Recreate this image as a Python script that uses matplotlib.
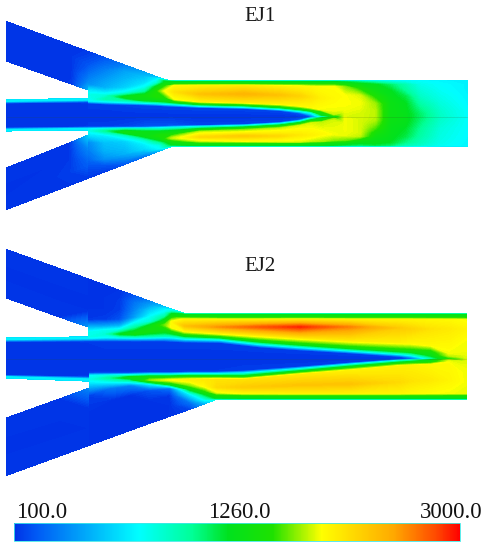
import numpy as np
import matplotlib
matplotlib.use("Agg")
import matplotlib.pyplot as plt
from matplotlib.colors import LinearSegmentedColormap, TwoSlopeNorm
from matplotlib.cm import ScalarMappable

TITLES = ["EJ1", "EJ2"]
CBAR_LABELS = ["100.0", "1260.0", "3000.0"]
T_MIN, T_MID, T_MAX = 100.0, 1260.0, 3000.0

# ---------- EJ1 mixing section: stations (x), node positions (y), temperatures (T)
E1U_X = [89,105,125,145,157,165,175,200,244,280,300,311,322,334,345,360,375,390,405,420,440,467]
E1U_Y = [
[52,65,75,85,90,95,99.5,101,103,116.5],
[58,70,80,88,92,96,99,101.5,104,116.5],
[65.3,72,80,88,93,97,99.5,102,104.5,116.5],
[72.6,77,83,88,92,96,100,102.5,105,116.5],
[77,79,83,87,91,96,100.5,103,105.5,116.5],
[80,81.5,83.5,86,91,97,101,103.5,106,116.5],
[81,82,84,86,92,99,102,104,106.5,116.5],
[81,82,84,86,94,101,103.5,105.5,107.5,116.5],
[81,82,84,86,94,102,104.5,106.5,108.5,116.5],
[81,82,84,86.5,95,103.5,106.5,108.5,110.5,116.5],
[81,82,84,86.5,96,105.5,108.5,110.5,113,116.5],
[81,82,84,87,97,107,110,112,115,116.5],
[81,82,84,87,98,109.5,112,114,115.5,116.5],
[81,82,84,87,98,110,114,115,116,116.5],
[81,82,84,87,96,104,109,112,115,116.5],
[81,82,84.5,89,96,103,108,111,114,116.5],
[81,82,85,90,97,104,108,111,114,116.5],
[81,82,85,91,97,104,108,111,114,116.5],
[81,82,85,91,97,104,108,111,114,116.5],
[81,82,85,91,97,104,108,111,114,116.5],
[81,82,85,91,97,104,108,111,114,116.5],
[81,82,85,91,97,104,108,111,114,116.5],
]
E1U_T = [
[120,200,300,400,650,800,750,700,130,100],
[200,330,430,500,650,850,950,700,130,100],
[320,450,520,600,800,1260,1000,750,140,100],
[450,550,650,800,1000,1350,1260,800,150,100],
[550,700,850,1260,1500,1500,1260,800,150,100],
[750,1200,1300,1500,1900,1500,1260,800,150,100],
[800,1200,1350,1950,2100,1900,1300,800,150,100],
[800,1200,1400,2000,2300,2000,1400,850,150,100],
[800,1200,1400,2050,2400,2050,1400,850,150,100],
[800,1200,1400,2000,2300,2000,1400,850,150,100],
[800,1200,1400,1950,2200,1950,1400,850,200,100],
[800,1200,1400,1950,2100,1950,1400,850,400,150],
[800,1200,1400,1920,2000,1900,1350,1300,1100,850],
[800,1200,1400,1920,1950,1900,1800,1600,1400,1260],
[780,1150,1300,1700,1920,1920,1900,1880,1860,1850],
[760,1050,1260,1500,1850,1900,1880,1860,1850,1850],
[750,950,1230,1300,1500,1750,1780,1800,1800,1800],
[750,850,1100,1220,1260,1300,1300,1300,1300,1300],
[750,800,950,1020,1150,1220,1230,1240,1250,1250],
[740,760,800,850,900,980,1030,1060,1090,1100],
[720,730,750,770,800,840,860,880,890,900],
[700,700,710,710,720,730,740,750,750,750],
]
E1L_X = [89,105,125,145,160,172,200,244,280,300,311,322,334,345,360,375,390,405,420,440,467]
E1L_Y = [
[116.5,127,129,130.5,135,142,150,160,170,177.7],
[116.5,127,129,131,135,142,150,158,165,171.6],
[116.5,127,129,132,135,141,147,153,159,164],
[116.5,127,129,132.5,136,140,144,148,152,156.3],
[116.5,126.5,128.5,132,135.5,139,142,145,148,150.6],
[116.5,126,128,131.5,135,138,141,143,144.8,146],
[116.5,125.5,127,129.5,132,137,141,143,144.8,146],
[116.5,124.5,126,128,130,136,141,143,144.8,146],
[116.5,122.5,124,126,128.5,136,141.5,143,144.8,146],
[116.5,120,121.5,123.5,126,135,141.5,143,144.8,146],
[116.5,117.5,119,121,123.5,135,141,143,144.8,146],
[116.5,117.5,118.5,120.5,122.5,134,141,143,144.8,146],
[116.5,117,118,119,121,134,140,143,144.8,146],
[116.5,119,122,125,130,135,140,143,144.8,146],
[116.5,120,124,128,132,136,139,142,144.8,146],
[116.5,120,124,128,132,136,139,142,144.8,146],
[116.5,120,124,128,132,136,139,142,144.8,146],
[116.5,120,124,128,132,136,139,142,144.8,146],
[116.5,120,124,128,132,136,139,142,144.8,146],
[116.5,120,124,128,132,136,139,142,144.8,146],
[116.5,120,124,128,132,136,139,142,144.8,146],
]
E1L_T = [
[100,130,700,800,650,380,330,250,160,120],
[100,130,800,1000,700,550,500,400,200,120],
[100,150,900,1350,900,600,550,500,350,200],
[100,200,900,1300,1260,850,700,650,500,300],
[100,200,800,1260,1450,1300,1000,800,750,500],
[100,200,800,1260,1500,1800,1400,1300,1150,780],
[100,150,800,1300,1800,2150,1800,1400,1250,800],
[100,150,800,1350,1700,2250,1900,1400,1250,800],
[100,150,800,1350,1800,2150,1850,1400,1250,800],
[100,200,800,1350,1850,2050,1850,1400,1250,800],
[150,400,900,1350,1850,2000,1800,1350,1250,800],
[850,1000,1250,1350,1800,1950,1750,1300,1250,800],
[1260,1350,1500,1750,1850,1900,1700,1300,1200,780],
[1850,1900,1900,1900,1900,1880,1650,1260,1150,760],
[1850,1850,1850,1850,1850,1800,1500,1260,1100,750],
[1800,1780,1700,1600,1450,1350,1280,1260,1150,780],
[1300,1300,1280,1260,1260,1240,1230,1200,1100,780],
[1250,1250,1230,1200,1180,1150,1100,1050,950,760],
[1100,1080,1050,1020,1000,980,950,930,880,720],
[900,880,860,840,830,820,810,800,780,700],
[760,755,750,745,740,735,730,725,720,700],
]

# ---------- EJ2 mixing section
E2U_X = [89,105,120,135,150,165,172,185,220,260,300,350,400,411,431,449,466]
E2U_Y = [
[279.5,295,310,320,327,333,336.5,338,341,358.5],
[285.3,298,310,320,327,331,334,337,341,358.5],
[290.7,300,310,320,326,330,334,337,341,358.5],
[296,303,310,318,323,328,333.5,337,341,358.5],
[301.5,306,311,317,322,326,331,336.5,341,358.5],
[307,309.5,313,317,321,325,329.5,336,341,358.5],
[309.4,311.5,314,317,322,327,332,336.5,341.5,358.5],
[313.8,315,317,320,326,331,335,338,342,358.5],
[314,315,317.5,320,327,333,336.5,339,342.5,358.5],
[314,315,317.5,320,327,335,340.5,343.5,347,358.5],
[314,315,317.5,320,327,337,343.5,346.5,350,358.5],
[314,315,317.5,320,327,340,347,350,353,358.5],
[314,315,317.5,320,328,342,350,353.5,356.5,358.5],
[314,315,317.5,320,329,343,350.5,354.5,357.5,358.5],
[314,315,317.5,320,329,345,351.5,355,357.5,358.5],
[314,315,317.5,320,329,345,353,355.5,357.5,358.5],
[314,315,317.5,320,329,342,350,354,357,358.5],
]
E2U_T = [
[100,100,100,120,500,800,800,700,120,100],
[100,100,100,130,500,800,850,750,130,100],
[100,120,130,200,500,800,1200,800,130,100],
[200,300,350,450,750,1000,1350,850,130,100],
[350,450,600,750,850,1260,1400,900,130,100],
[550,700,800,1000,1300,1650,1400,900,130,100],
[650,850,1200,1400,1950,1950,1350,850,130,100],
[850,1250,1400,2000,2300,1950,1350,850,130,100],
[900,1280,1400,2000,2550,2000,1400,850,130,100],
[900,1280,1400,2000,2750,2050,1400,850,130,100],
[900,1280,1400,2050,2900,2100,1400,850,130,100],
[900,1280,1400,2000,2600,2050,1400,850,130,100],
[900,1280,1400,1980,2250,2000,1400,850,150,100],
[900,1280,1400,1980,2200,1950,1400,850,300,120],
[900,1280,1400,1960,2100,1950,1400,1260,1000,800],
[900,1280,1400,1950,2050,1950,1900,1800,1550,1350],
[900,1280,1400,1900,1980,1900,1900,1880,1870,1850],
]
E2L_X = [90,110,130,150,170,190,205,217,244,300,350,400,411,431,449,466]
E2L_Y = [
[358.5,373,376,379,383,395,410,425,437,444.8],
[358.5,373,376,378,381,388,400,415,428,437.5],
[358.5,373,375.5,377.5,380,385,395,405,420,430.2],
[358.5,372.5,375,377,380,384,390,400,412,423],
[358.5,372.5,375,377,380,384,388,395,405,416],
[358.5,372,374.5,376.5,380,385,389,394,402,409],
[358.5,372,374.5,376.5,380,386,391,394,399,403.4],
[358.5,372,374.5,376.5,380,387,392.5,395,397.5,399],
[358.5,371,374,377,380,387,393,395.5,397.5,399],
[358.5,367,369.5,372,375,385,393,395.5,397.5,399],
[358.5,363,365,367.5,371,384,393,395.5,397.5,399],
[358.5,359.5,361,363.5,366.5,382,393,395.5,397.5,399],
[358.5,359.2,360.5,363,366,381,393,395.5,397.5,399],
[358.5,359.2,360.5,362.5,365,380,393,395.5,397.5,399],
[358.5,359.3,360.5,362,365,380,393,395.5,397.5,399],
[358.5,362,366,370,375,382,393,395.5,397.5,399],
]
E2L_T = [
[100,120,750,800,650,140,100,100,100,100],
[100,120,850,1000,800,300,100,100,100,100],
[100,120,850,1300,1000,350,100,100,100,100],
[100,120,850,1350,1700,700,200,100,100,100],
[100,120,850,1350,1900,1300,300,120,100,100],
[100,120,850,1350,2000,1700,1260,700,300,150],
[100,120,850,1350,2050,1950,1500,1200,800,500],
[100,120,850,1350,2100,2150,1850,1400,1250,850],
[100,130,850,1350,2100,2250,1950,1400,1280,900],
[100,130,850,1350,2050,2300,2000,1400,1280,900],
[100,130,850,1350,2000,2300,2000,1400,1280,900],
[100,150,850,1400,2000,2150,1980,1400,1280,900],
[120,300,900,1400,2000,2100,1950,1400,1280,900],
[800,1000,1260,1400,1950,2050,1920,1400,1280,900],
[1350,1550,1850,1900,1950,1980,1900,1400,1280,900],
[1850,1870,1880,1900,1900,1900,1880,1400,1280,900],
]

# ---------- inlets and central jet (stations, node y, temperatures)
E1_IN_U_X = [7,50,72,89]
E1_IN_U_Y = [[22,35,48,61],[37.8,50,64,76.2],[45.9,57,71,84],[52,65,78,90]]
E1_IN_U_T = [[110,105,105,110],[105,100,100,110],[110,115,115,120],[120,200,320,500]]
E1_IN_L_X = [7,50,70,89]
E1_IN_L_Y = [[168,182,196,209],[151,166,180,192.6],[143,157,172,185]
,[135,150,165,177.7]]
E1_IN_L_T = [[110,100,100,110],[110,100,110,110],[115,115,130,115],[600,350,230,120]]
E1_JET_X = [7,89]
E1_JET_Y = [[100,100.8,103,116.5,128,130,130.8],[98.5,99.5,102,116.5,127,129,130]]
E1_JET_T = [[650,700,110,100,110,700,650],[650,700,120,100,120,700,650]]

E2_IN_U_X = [7,60,89]
E2_IN_U_Y = [[250,266,282,298],[269,285,302,317],[279.5,295,311,327]]
E2_IN_U_T = [[105,100,100,105],[105,100,100,105],[105,100,100,400]]
E2_IN_L_X = [7,60,90]
E2_IN_L_Y = [[418,436,455,475],[399,420,438,455.7],[388,408,428,444.8]]
E2_IN_L_T = [[105,100,100,105],[105,100,100,105],[350,110,100,105]]
E2_JET_X = [7,89]
E2_JET_Y = [[338,339,341.5,358.5,375.5,377.2,378],[337,338,341,358.5,377,379.5,381]]
E2_JET_T = [[650,700,110,100,110,700,650],[650,700,120,100,120,700,650]]

# colour stops (position along the bar, rgb)
STOP_POS = [0, .05, .28, .40, .48, .58, .69, .85, .95, 1]
STOP_RGB = [(0,50,230),(0,90,245),(0,255,255),(0,255,150),(0,225,30),
            (30,225,0),(255,255,0),(255,170,0),(255,70,0),(255,0,0)]

cmap = LinearSegmentedColormap.from_list(
    "bar", [(p, tuple(c/255 for c in rgb)) for p, rgb in zip(STOP_POS, STOP_RGB)], N=512)
norm = TwoSlopeNorm(vmin=T_MIN, vcenter=T_MID, vmax=T_MAX)
levels = np.linspace(T_MIN, T_MAX, 161)

fig = plt.figure(figsize=(4.88, 5.50), dpi=100, facecolor="white")
ax = fig.add_axes([0, 0, 1, 1])
ax.set_xlim(0, 488)
ax.set_ylim(550, 0)
ax.axis("off")


def field(xs, ys, ts):
    ys = np.array(ys, float)
    xg = np.repeat(np.array(xs, float)[:, None], ys.shape[1], axis=1)
    cs = ax.contourf(xg, ys, np.array(ts, float), levels=levels, cmap=cmap,
                     norm=norm, extend="both")
    cs.set_edgecolor("face")
    cs.set_linewidth(0.35)


for block in [
    (E1_IN_U_X, E1_IN_U_Y, E1_IN_U_T), (E1_IN_L_X, E1_IN_L_Y, E1_IN_L_T),
    (E1_JET_X, E1_JET_Y, E1_JET_T), (E1U_X, E1U_Y, E1U_T), (E1L_X, E1L_Y, E1L_T),
    (E2_IN_U_X, E2_IN_U_Y, E2_IN_U_T), (E2_IN_L_X, E2_IN_L_Y, E2_IN_L_T),
    (E2_JET_X, E2_JET_Y, E2_JET_T), (E2U_X, E2U_Y, E2U_T), (E2L_X, E2L_Y, E2L_T),
]:
    field(*block)

# faint symmetry lines
ax.plot([7, 467], [116.5, 116.5], color="#305020", lw=0.5, alpha=0.22)
ax.plot([7, 466], [358.5, 358.5], color="#305020", lw=0.5, alpha=0.22)

serif = "Liberation Serif"
ax.text(260, 16.5, TITLES[0], family=serif, fontsize=15, ha="center", va="center", color="#1a1a1a")
ax.text(260, 266.5, TITLES[1], family=serif, fontsize=15, ha="center", va="center", color="#1a1a1a")

# colour bar
cax = fig.add_axes([14/488, 1-541/550, 446/488, 18/550])
cb = fig.colorbar(ScalarMappable(norm=norm, cmap=cmap), cax=cax, orientation="horizontal")
cb.set_ticks([])
cb.minorticks_off()
cb.outline.set_edgecolor("#40e8e8")
cb.outline.set_linewidth(0.6)

ax.text(42, 513, CBAR_LABELS[0], family=serif, fontsize=16.5, ha="center", va="center", color="#111111")
ax.text(239, 513, CBAR_LABELS[1], family=serif, fontsize=16.5, ha="center", va="center", color="#111111")
ax.text(451, 513, CBAR_LABELS[2], family=serif, fontsize=16.5, ha="center", va="center", color="#111111")

fig.savefig("out.png", dpi=100)
